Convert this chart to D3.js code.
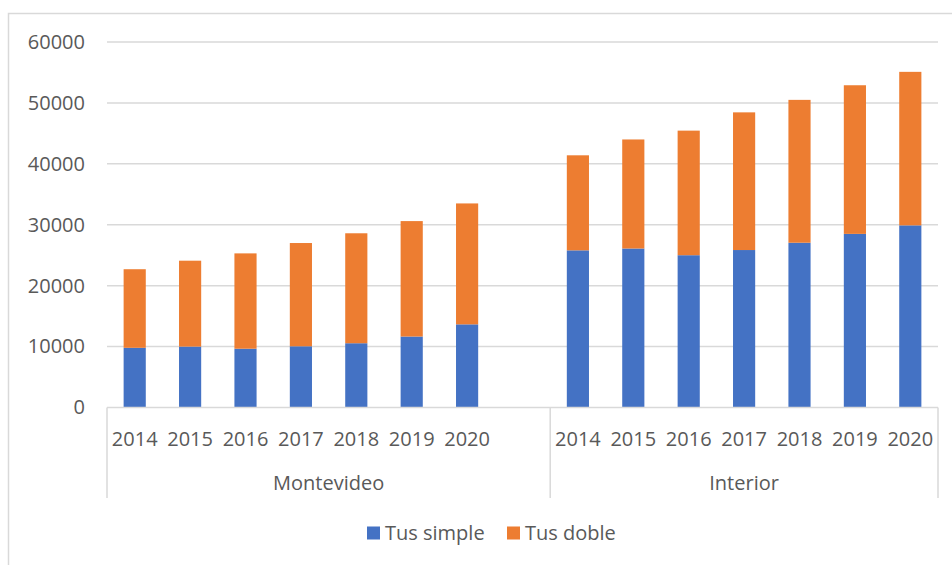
<!DOCTYPE html>
<html>
<head>
<meta charset="utf-8">
<script src="https://cdn.jsdelivr.net/npm/d3@7"></script>
<style>
  html, body { margin: 0; padding: 0; background: #fff; }
  svg { display: block; font-family: "Open Sans", "Noto Sans", sans-serif; }
</style>
</head>
<body>
<svg id="chart" width="952" height="565"></svg>
<script>
// ---- Data ----
const groups = ["Montevideo", "Interior"];
const years = ["2014", "2015", "2016", "2017", "2018", "2019", "2020"];
const seriesNames = ["Tus simple", "Tus doble"];
const montevideoSimple = [9800, 10000, 9650, 10050, 10550, 11650, 13650];
const montevideoDoble  = [12900, 14100, 15650, 16950, 18050, 18950, 19850];
const interiorSimple   = [25800, 26100, 25000, 25850, 27050, 28500, 29900];
const interiorDoble    = [15600, 17900, 20450, 22600, 23450, 24400, 25200];
const yTicks = [0, 10000, 20000, 30000, 40000, 50000, 60000];

const colors = ["#4472C4", "#ED7D31"];
const textColor = "#595959";
const gridColor = "#D9D9D9";

// Build rows
const rows = [];
years.forEach((y, i) => rows.push({ group: "Montevideo", year: y, key: "Montevideo|" + y,
  "Tus simple": montevideoSimple[i], "Tus doble": montevideoDoble[i] }));
const blankKey = "Montevideo|";
years.forEach((y, i) => rows.push({ group: "Interior", year: y, key: "Interior|" + y,
  "Tus simple": interiorSimple[i], "Tus doble": interiorDoble[i] }));

const domainKeys = [];
years.forEach(y => domainKeys.push("Montevideo|" + y));
domainKeys.push(blankKey);
years.forEach(y => domainKeys.push("Interior|" + y));

// ---- Layout ----
const svg = d3.select("#chart");
const plotLeft = 107, plotRight = 938, plotTop = 42, plotBottom = 407.5;

// outer chart border (top and left visible)
svg.append("path")
  .attr("d", `M8.5,565 L8.5,13.5 L952,13.5`)
  .attr("fill", "none").attr("stroke", gridColor).attr("stroke-width", 1.5);

const x = d3.scaleBand().domain(domainKeys).range([plotLeft, plotRight])
  .paddingInner(0.6).paddingOuter(0.3);
const y = d3.scaleLinear().domain([0, 60000]).range([plotBottom, plotTop]);

// gridlines
svg.append("g").selectAll("line").data(yTicks.filter(t => t > 0)).join("line")
  .attr("x1", plotLeft).attr("x2", plotRight)
  .attr("y1", d => y(d)).attr("y2", d => y(d))
  .attr("stroke", gridColor).attr("stroke-width", 1.5);

// y axis labels
const yAxis = d3.axisLeft(y).tickValues(yTicks).tickSize(0).tickPadding(0).tickFormat(d3.format("d"));
const yg = svg.append("g").attr("transform", `translate(${plotLeft - 22},0)`).call(yAxis);
yg.select(".domain").remove();
yg.selectAll("text").attr("fill", textColor).style("font-size", "20px")
  .style("font-family", "'Open Sans', 'Noto Sans', sans-serif");

// bars
const stack = d3.stack().keys(seriesNames);
const stacked = stack(rows);
svg.append("g").selectAll("g").data(stacked).join("g")
  .attr("fill", (d, i) => colors[i])
  .selectAll("rect").data(d => d).join("rect")
  .attr("x", d => x(d.data.key))
  .attr("width", x.bandwidth())
  .attr("y", d => y(d[1]))
  .attr("height", d => y(d[0]) - y(d[1]));

// category axis
const xAxis = d3.axisBottom(x).tickSize(0).tickPadding(0)
  .tickFormat(k => k.split("|")[1]);
const xg = svg.append("g").attr("transform", `translate(0,${plotBottom})`).call(xAxis);
xg.select(".domain").attr("stroke", gridColor).attr("stroke-width", 1.5)
  .attr("d", `M${plotLeft},0H${plotRight}`);
xg.selectAll("text").attr("fill", textColor).style("font-size", "20px")
  .style("font-family", "'Open Sans', 'Noto Sans', sans-serif")
  .attr("dy", null).attr("y", 38);

// group separators
const step = x.step();
const groupBounds = [plotLeft, x(blankKey) - x.padding() * 0 + (x.bandwidth() - step) / 2 + step, plotRight];
// compute boundary between Montevideo block (8 slots) and Interior (7 slots)
const sepX = plotLeft + (plotRight - plotLeft) * 8 / 15;
const bounds = [plotLeft, sepX, plotRight];
svg.append("g").selectAll("line").data(bounds).join("line")
  .attr("x1", d => d).attr("x2", d => d)
  .attr("y1", plotBottom).attr("y2", 498)
  .attr("stroke", gridColor).attr("stroke-width", 1.5);

// group labels
svg.append("g").selectAll("text").data(groups).join("text")
  .attr("x", (d, i) => (bounds[i] + bounds[i + 1]) / 2)
  .attr("y", 483).attr("dy", "0.35em")
  .attr("text-anchor", "middle").attr("fill", textColor)
  .style("font-size", "20px")
  .text(d => d);

// legend
const legendItems = [{ name: seriesNames[0], x: 367 }, { name: seriesNames[1], x: 507 }];
const lg = svg.append("g").selectAll("g").data(legendItems).join("g")
  .attr("transform", d => `translate(${d.x},533)`);
lg.append("rect").attr("x", 0).attr("y", -6.5).attr("width", 13).attr("height", 13)
  .attr("fill", (d, i) => colors[i]);
lg.append("text").attr("x", 18).attr("dy", "0.35em").attr("fill", textColor)
  .style("font-size", "20px").text(d => d.name);
</script>
</body>
</html>
